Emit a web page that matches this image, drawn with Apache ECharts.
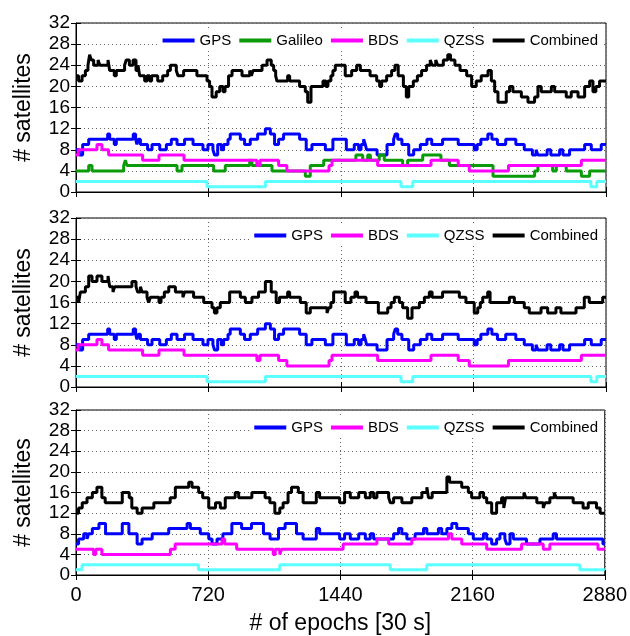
<!DOCTYPE html>
<html>
<head>
<meta charset="utf-8">
<script src="https://cdn.jsdelivr.net/npm/echarts@6/dist/echarts.min.js"></script>
<style>html,body{margin:0;padding:0;background:#fff;}#c{width:630px;height:636px;}</style>
</head>
<body>
<div id="c"></div>
<script>
// ---- data: change points [epoch, number of satellites] ----
const xTicks = [0, 720, 1440, 2160, 2880];
const yTicks = [0, 4, 8, 12, 16, 20, 24, 28, 32];

// Panel 1 & 2 (shared GPS / BDS / QZSS)
const gpsA = [[0,8],[18,7],[36,9],[69,10],[172,11],[183,10],[208,9],[219,10],[311,11],[324,10],[331,9],[339,10],[350,9],[389,8],[413,9],[455,8],[491,9],[518,10],[549,9],[590,10],[636,9],[690,8],[717,9],[744,8],[753,7],[770,9],[790,8],[802,9],[826,10],[838,11],[893,10],[916,9],[947,10],[987,11],[1029,12],[1056,11],[1079,9],[1101,10],[1128,11],[1215,10],[1251,8],[1282,9],[1355,8],[1396,10],[1469,8],[1512,9],[1536,8],[1549,9],[1563,10],[1572,9],[1579,8],[1636,7],[1690,9],[1726,10],[1735,11],[1748,10],[1771,9],[1808,7],[1835,8],[1871,9],[1907,10],[1933,9],[1992,10],[2077,9],[2164,8],[2180,9],[2200,10],[2238,11],[2260,10],[2290,9],[2335,10],[2390,9],[2436,8],[2480,7],[2500,8],[2510,7],[2560,8],[2580,7],[2628,8],[2646,7],[2682,8],[2764,9],[2800,8],[2854,9],[2880,9]];
const galA = [[0,4],[69,5],[87,4],[259,5],[268,6],[277,5],[549,4],[576,5],[748,4],[811,5],[944,6],[956,5],[1065,4],[1246,3],[1273,5],[1346,6],[1521,7],[1558,6],[1585,7],[1600,6],[1648,7],[1675,6],[1775,5],[1802,6],[1884,7],[1983,6],[2029,5],[2266,3],[2492,4],[2510,5],[2590,4],[2610,5],[2664,4],[2746,3],[2791,4],[2880,4]];
const bdsA = [[0,7],[12,8],[114,9],[141,8],[177,7],[362,6],[451,7],[587,6],[983,5],[1000,6],[1101,5],[1146,4],[1375,5],[1391,6],[1639,5],[1929,6],[2077,5],[2137,4],[2350,5],[2746,6],[2880,6]];
const qzsA = [[0,2],[712,1],[1029,2],[1766,1],[1830,2],[2798,1],[2830,2],[2880,2]];
const allA = [[0,22],[14,21],[33,22],[51,23],[65,24],[74,26],[83,25],[96,24],[120,25],[129,24],[174,25],[183,23],[208,22],[219,23],[264,24],[273,25],[290,24],[310,25],[326,23],[337,24],[346,22],[373,21],[386,22],[400,21],[411,22],[444,21],[471,22],[498,23],[513,24],[545,23],[554,22],[585,23],[657,22],[712,21],[726,20],[739,18],[762,19],[781,20],[799,19],[810,20],[829,22],[848,23],[902,22],[944,23],[953,22],[962,23],[1011,24],[1038,25],[1061,24],[1074,23],[1085,22],[1092,21],[1150,22],[1161,21],[1215,20],[1246,19],[1259,17],[1277,20],[1342,21],[1358,20],[1369,21],[1385,22],[1396,23],[1409,24],[1463,22],[1498,23],[1525,24],[1545,23],[1598,22],[1634,21],[1650,20],[1661,21],[1688,22],[1715,23],[1733,24],[1751,22],[1779,20],[1795,18],[1808,20],[1833,21],[1855,22],[1878,23],[1905,24],[1925,25],[1935,24],[1955,25],[1965,24],[1996,25],[2020,26],[2035,25],[2059,24],[2087,23],[2123,22],[2150,20],[2175,21],[2202,22],[2239,23],[2257,21],[2275,19],[2293,17],[2338,19],[2356,20],[2374,19],[2420,18],[2456,17],[2492,18],[2510,20],[2528,19],[2583,20],[2601,19],[2664,18],[2691,19],[2728,18],[2764,20],[2791,21],[2809,19],[2825,20],[2845,21],[2880,21]];

// Panel 2 combined (GPS+BDS+QZSS)
const allB = [[0,17],[14,16],[24,18],[51,19],[69,21],[87,20],[114,21],[141,20],[174,21],[183,19],[201,18],[210,19],[304,20],[326,19],[335,18],[350,19],[359,18],[386,17],[395,16],[404,17],[451,16],[462,17],[480,18],[504,19],[540,18],[581,17],[590,18],[639,17],[694,16],[739,15],[752,14],[766,15],[784,16],[835,18],[893,17],[920,16],[956,17],[992,18],[1029,20],[1061,18],[1088,16],[1106,17],[1150,18],[1161,17],[1219,16],[1251,14],[1273,15],[1364,14],[1373,15],[1385,16],[1400,18],[1463,16],[1494,17],[1516,18],[1530,17],[1576,16],[1643,14],[1694,15],[1712,16],[1730,17],[1757,16],[1775,15],[1802,13],[1826,15],[1866,16],[1893,17],[1920,18],[1935,17],[1992,18],[2083,17],[2119,16],[2164,14],[2183,15],[2197,16],[2210,17],[2237,18],[2250,16],[2355,17],[2382,16],[2436,15],[2463,14],[2527,15],[2563,14],[2608,15],[2635,14],[2717,15],[2762,17],[2789,16],[2862,17],[2880,17]];

// Panel 3
const gpsC = [[0,6],[14,7],[42,8],[60,7],[69,8],[89,9],[125,10],[161,8],[252,10],[288,8],[333,6],[360,7],[415,8],[505,9],[605,10],[623,9],[677,8],[723,7],[741,6],[768,7],[800,8],[849,10],[902,9],[956,10],[1021,8],[1057,7],[1103,9],[1139,10],[1201,8],[1237,7],[1309,9],[1327,8],[1436,7],[1463,8],[1494,7],[1540,8],[1576,7],[1603,8],[1621,7],[1730,8],[1757,9],[1775,8],[1802,7],[1847,8],[1893,9],[1911,8],[1974,9],[1992,8],[2020,9],[2047,10],[2074,9],[2137,8],[2164,7],[2219,8],[2237,7],[2264,6],[2291,7],[2309,8],[2336,7],[2345,6],[2364,8],[2382,7],[2454,6],[2527,7],[2599,8],[2617,7],[2870,6],[2880,6]];
const bdsC = [[0,5],[96,4],[108,5],[141,4],[514,5],[540,6],[796,7],[810,6],[875,5],[1074,4],[1085,5],[1110,4],[1120,5],[1455,6],[1639,7],[1703,6],[1829,7],[2029,8],[2047,7],[2101,6],[2237,5],[2427,6],[2545,5],[2581,6],[2843,5],[2880,5]];
const qzsC = [[0,1],[33,2],[667,1],[1110,2],[1712,1],[1911,2],[2744,1],[2880,1]];
const allC = [[0,12],[14,13],[34,14],[60,15],[89,16],[114,17],[141,15],[159,14],[252,16],[290,15],[304,13],[333,12],[360,13],[424,14],[513,15],[541,17],[614,18],[632,17],[668,16],[690,15],[723,13],[760,14],[786,13],[813,15],[867,16],[886,15],[958,16],[1030,15],[1056,14],[1083,12],[1110,13],[1128,14],[1155,16],[1174,17],[1211,16],[1237,14],[1309,16],[1327,15],[1436,14],[1463,16],[1494,15],[1540,16],[1576,15],[1603,16],[1621,15],[1639,16],[1703,15],[1712,14],[1730,15],[1775,14],[1829,15],[1884,16],[1911,17],[1920,15],[1940,16],[2020,19],[2035,18],[2101,17],[2137,16],[2155,15],[2200,16],[2220,15],[2237,14],[2264,12],[2291,14],[2318,15],[2330,13],[2340,15],[2440,16],[2450,15],[2510,14],[2545,13],[2555,14],[2581,15],[2605,16],[2615,15],[2708,14],[2762,13],[2790,14],[2835,13],[2855,12],[2880,12]];

const panels = [
  {top: 23, series: [['GPS', gpsA], ['Galileo', galA], ['BDS', bdsA], ['QZSS', qzsA], ['Combined', allA]]},
  {top: 218, series: [['GPS', gpsA], ['BDS', bdsA], ['QZSS', qzsA], ['Combined', allB]]},
  {top: 410, series: [['GPS', gpsC], ['BDS', bdsC], ['QZSS', qzsC], ['Combined', allC]]}
];
const colors = {GPS: '#0000ff', Galileo: '#0a9a0a', BDS: '#ff00ff', QZSS: '#5cffff', Combined: '#000000'};
const FONT = 'Liberation Sans, Arial, Helvetica, sans-serif';

const grid = [], xAxis = [], yAxis = [], series = [], legend = [];
panels.forEach((p, i) => {
  grid.push({left: 76, right: 24, top: p.top, height: 169, show: true, borderColor: '#000', borderWidth: 1, backgroundColor: 'transparent'});
  const last = i === panels.length - 1;
  xAxis.push({
    type: 'value', gridIndex: i, min: xTicks[0], max: xTicks[xTicks.length - 1], interval: xTicks[1] - xTicks[0],
    axisLine: {show: true, onZero: false, lineStyle: {color: '#000', width: 1}},
    axisTick: {show: true, inside: true, length: 5, lineStyle: {color: '#000'}},
    axisLabel: {show: last, color: '#000', fontSize: 20, fontFamily: FONT, margin: 10, formatter: v => String(v)},
    splitLine: {show: true, lineStyle: {color: '#666', type: [1, 3], width: 1}},
    name: last ? '# of epochs [30 s]' : '', nameLocation: 'middle', nameGap: 37,
    nameTextStyle: {color: '#000', fontSize: 23, fontFamily: FONT}
  });
  xAxis.push({
    type: 'value', gridIndex: i, position: 'top', min: xTicks[0], max: xTicks[xTicks.length - 1], interval: xTicks[1] - xTicks[0],
    axisLine: {show: false}, axisTick: {show: true, inside: true, length: 5, lineStyle: {color: '#000'}},
    axisLabel: {show: false}, splitLine: {show: false}
  });
  yAxis.push({
    type: 'value', gridIndex: i, min: yTicks[0], max: yTicks[yTicks.length - 1], interval: yTicks[1] - yTicks[0],
    axisLine: {show: true, onZero: false, lineStyle: {color: '#000', width: 1}},
    axisTick: {show: true, inside: true, length: 5, lineStyle: {color: '#000'}},
    axisLabel: {show: true, color: '#000', fontSize: 19, fontFamily: FONT, margin: 6},
    splitLine: {show: true, lineStyle: {color: '#666', type: [1, 3], width: 1}},
    name: '# satellites', nameLocation: 'middle', nameGap: 41, nameRotate: 90,
    nameTextStyle: {color: '#000', fontSize: 23, fontFamily: FONT}
  });
  yAxis.push({
    type: 'value', gridIndex: i, position: 'right', min: yTicks[0], max: yTicks[yTicks.length - 1], interval: yTicks[1] - yTicks[0],
    axisLine: {show: false}, axisTick: {show: true, inside: true, length: 5, lineStyle: {color: '#000'}},
    axisLabel: {show: false}, splitLine: {show: false}
  });
  p.series.forEach(([name, data]) => {
    series.push({
      name, type: 'line', step: 'end', data, xAxisIndex: 2 * i, yAxisIndex: 2 * i,
      showSymbol: false, symbol: 'none', animation: false,
      lineStyle: {color: colors[name], width: 3}, itemStyle: {color: colors[name]}
    });
  });
  legend.push({
    data: p.series.map(s => s[0]), right: 28, top: p.top + 7,
    icon: 'rect', itemWidth: 32, itemHeight: 4, itemGap: 8,
    backgroundColor: '#fff', padding: [3, 4],
    textStyle: {color: '#000', fontSize: 15, fontFamily: FONT},
    selectedMode: false
  });
});

const chart = echarts.init(document.getElementById('c'), null, {renderer: 'canvas'});
chart.setOption({animation: false, backgroundColor: '#fff', grid, xAxis, yAxis, series, legend});
</script>
</body>
</html>
